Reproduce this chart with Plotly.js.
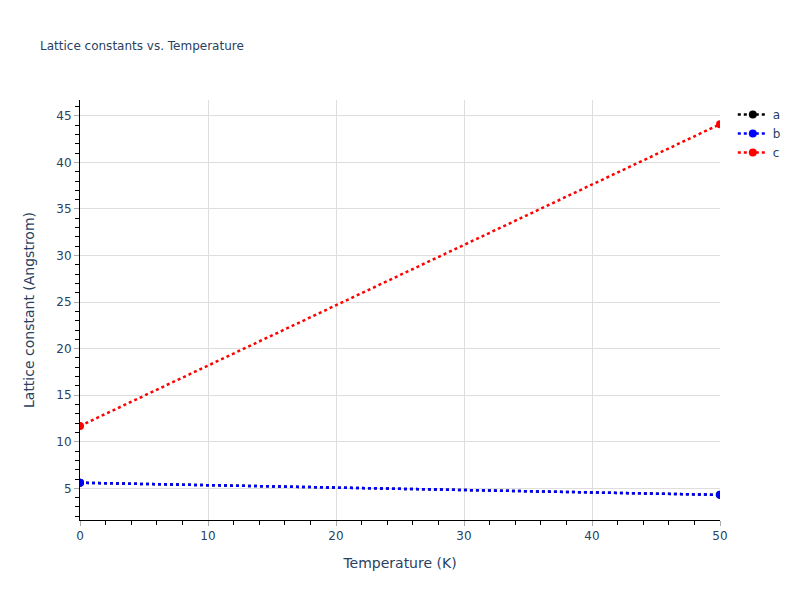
<!DOCTYPE html>
<html>
<head>
<meta charset="utf-8">
<script src="https://cdn.plot.ly/plotly-3.0.1.min.js"></script>
<style>
body { margin: 0; }
#chart { width: 800px; height: 600px; }
</style>
</head>
<body>
<div id="chart"></div>
<script>
// temperatures (K) and lattice constants (Angstrom)
var temperature = [0, 50];
var latticeA = [5.6, 4.3];
var latticeB = [5.6, 4.3];
var latticeC = [11.7, 44.1];

function series(name, y, color) {
  return {
    x: temperature,
    y: y,
    name: name,
    type: 'scatter',
    mode: 'lines+markers',
    line: {color: color, dash: 'dot', width: 2.5},
    marker: {color: color, size: 8}
  };
}

var data = [
  series('a', latticeA, 'black'),
  series('b', latticeB, 'blue'),
  series('c', latticeC, 'red')
];

var axisStyle = {
  showline: true,
  linecolor: 'black',
  linewidth: 1,
  ticks: 'outside',
  ticklen: 5,
  tickcolor: '#aaa',
  showgrid: true,
  gridcolor: '#dedede',
  zeroline: false,
  minor: {ticks: 'outside', ticklen: 4, tickcolor: 'black', showgrid: false}
};

var layout = {
  width: 800,
  height: 600,
  font: {family: 'DejaVu Sans, Verdana, sans-serif', color: '#2a3f5f', size: 12},
  title: {text: 'Lattice constants vs. Temperature', font: {size: 12}, x: 0.05, xanchor: 'left'},
  plot_bgcolor: 'white',
  paper_bgcolor: 'white',
  xaxis: Object.assign({}, axisStyle, {
    title: {text: 'Temperature (K)', font: {size: 14}, standoff: 15},
    range: [0, 50],
    dtick: 10,
    minor: Object.assign({}, axisStyle.minor, {dtick: 2})
  }),
  yaxis: Object.assign({}, axisStyle, {
    title: {text: 'Lattice constant (Angstrom)', font: {size: 14}, standoff: 18},
    range: [1.6, 46.7],
    dtick: 5,
    minor: Object.assign({}, axisStyle.minor, {dtick: 1})
  }),
  legend: {font: {size: 12}}
};

Plotly.newPlot('chart', data, layout, {displayModeBar: false});
</script>
</body>
</html>
